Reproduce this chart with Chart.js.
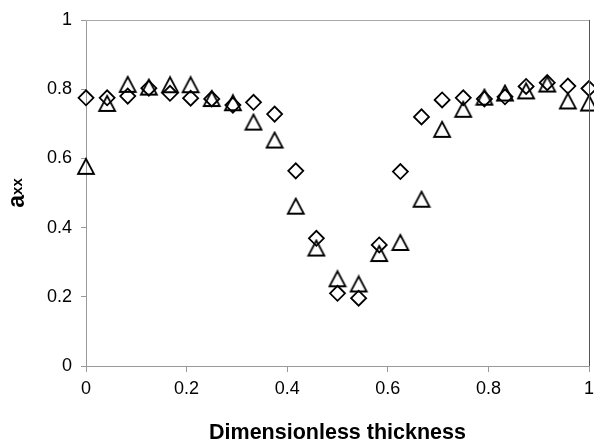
<!DOCTYPE html>
<html>
<head>
<meta charset="utf-8">
<script src="https://cdn.jsdelivr.net/npm/chart.js@4"></script>
<style>
  html, body { margin: 0; padding: 0; background: #fff; }
  #wrap { width: 594px; height: 444px; }
</style>
</head>
<body>
<div id="wrap"><canvas id="axxChart" width="594" height="444"></canvas></div>
<script>
// dimensionless thickness positions
const thickness = [0, 0.042, 0.083, 0.125, 0.167, 0.208, 0.25, 0.292, 0.333, 0.375, 0.417, 0.458, 0.5,
                   0.542, 0.583, 0.625, 0.667, 0.708, 0.75, 0.792, 0.833, 0.875, 0.917, 0.958, 1];
// diamond series
const axxDiamond = [0.775, 0.775, 0.78, 0.803, 0.788, 0.774, 0.772, 0.754, 0.762, 0.728, 0.564, 0.369, 0.21,
                    0.196, 0.35, 0.562, 0.72, 0.769, 0.775, 0.772, 0.778, 0.808, 0.819, 0.809, 0.802];
// triangle series
const axxTriangle = [0.577, 0.759, 0.814, 0.806, 0.813, 0.813, 0.773, 0.761, 0.705, 0.653, 0.462, 0.341, 0.252,
                     0.237, 0.325, 0.357, 0.482, 0.684, 0.742, 0.777, 0.789, 0.795, 0.815, 0.766, 0.76];
const xTicks = [0, 0.2, 0.4, 0.6, 0.8, 1];
const yTicks = [0, 0.2, 0.4, 0.6, 0.8, 1];

function toPoints(xs, ys) {
    return xs.map((x, i) => ({x: x, y: ys[i]}));
}

// open triangle marker, centred on its box like the original
function makeTriangle() {
    const c = document.createElement("canvas");
    c.width = 20;
    c.height = 19;
    const g = c.getContext("2d");
    g.strokeStyle = "#000";
    g.lineWidth = 1.8;
    g.beginPath();
    g.moveTo(10, 2);
    g.lineTo(18, 17);
    g.lineTo(2, 17);
    g.closePath();
    g.stroke();
    return c;
}

const frame = {
    id: "frame",
    afterDraw(chart) {
        const ctx = chart.ctx;
        const a = chart.chartArea;
        ctx.save();
        ctx.lineWidth = 1;
        ctx.strokeStyle = "#aaa";
        ctx.beginPath();
        ctx.moveTo(a.left, Math.round(a.top) + 0.5);
        ctx.lineTo(a.right, Math.round(a.top) + 0.5);
        ctx.stroke();
        ctx.strokeStyle = "#555";
        ctx.beginPath();
        ctx.moveTo(Math.round(a.right) + 0.5, a.top);
        ctx.lineTo(Math.round(a.right) + 0.5, a.bottom);
        ctx.stroke();

        // y title: a with subscript xx
        ctx.fillStyle = "#000";
        ctx.textBaseline = "alphabetic";
        ctx.font = "bold 23px 'Liberation Sans', Arial, sans-serif";
        const wa = ctx.measureText("a").width;
        ctx.font = "bold 15px 'Liberation Sans', Arial, sans-serif";
        const wx = ctx.measureText("xx").width;
        ctx.translate(24, 193 + (wa + wx) / 2);
        ctx.rotate(-Math.PI / 2);
        ctx.font = "bold 23px 'Liberation Sans', Arial, sans-serif";
        ctx.fillText("a", 0, 0);
        ctx.font = "bold 15px 'Liberation Sans', Arial, sans-serif";
        ctx.fillText("xx", wa, -2);
        ctx.restore();
    }
};

const tickFont = {family: "'Liberation Sans', Arial, sans-serif", size: 18};

const config = {
    type: "scatter",
    data: {
        datasets: [
            {
                label: "diamond",
                data: toPoints(thickness, axxDiamond),
                pointStyle: "rectRot",
                pointRadius: 7.5,
                pointHoverRadius: 7.5,
                borderColor: "#000",
                backgroundColor: "rgba(0,0,0,0)",
                pointBorderWidth: 1.8,
                clip: false
            },
            {
                label: "triangle",
                data: toPoints(thickness, axxTriangle),
                pointStyle: makeTriangle(),
                pointRadius: 9,
                borderColor: "#000",
                backgroundColor: "rgba(0,0,0,0)",
                clip: false
            }
        ]
    },
    options: {
        responsive: false,
        animation: false,
        layout: {autoPadding: false, padding: {top: 20, right: 5, left: 0, bottom: 0}},
        plugins: {
            legend: {display: false},
            tooltip: {enabled: false}
        },
        scales: {
            x: {
                type: "linear",
                min: 0,
                max: 1,
                afterBuildTicks: (scale) => { scale.ticks = xTicks.map(v => ({value: v})); },
                afterFit: (scale) => {
                    scale.height = 78;
                    scale.paddingLeft = 0;
                    scale.paddingRight = 0;
                },
                border: {display: true, color: "#999", width: 1},
                grid: {drawOnChartArea: false, drawTicks: true, tickLength: 6, color: "#999"},
                ticks: {
                    font: tickFont,
                    color: "#000",
                    padding: 6,
                    maxRotation: 0,
                    autoSkip: false,
                    callback: (v) => String(Number(v.toFixed(1)))
                },
                title: {
                    display: true,
                    text: "Dimensionless thickness",
                    color: "#000",
                    font: {family: "'Liberation Sans', Arial, sans-serif", size: 21.5, weight: "bold", lineHeight: 1.0},
                    padding: {top: 0, bottom: 0}
                }
            },
            y: {
                type: "linear",
                min: 0,
                max: 1,
                afterBuildTicks: (scale) => { scale.ticks = yTicks.map(v => ({value: v})); },
                afterFit: (scale) => {
                    scale.width = 86;
                    scale.paddingTop = 0;
                    scale.paddingBottom = 0;
                },
                border: {display: true, color: "#999", width: 1},
                grid: {drawOnChartArea: false, drawTicks: true, tickLength: 5, color: "#999"},
                ticks: {
                    font: tickFont,
                    color: "#000",
                    padding: 9,
                    autoSkip: false,
                    callback: (v) => String(Number(v.toFixed(1)))
                }
            }
        }
    },
    plugins: [frame]
};

let axxChart = new Chart(document.getElementById("axxChart").getContext("2d"), config);
</script>
</body>
</html>
